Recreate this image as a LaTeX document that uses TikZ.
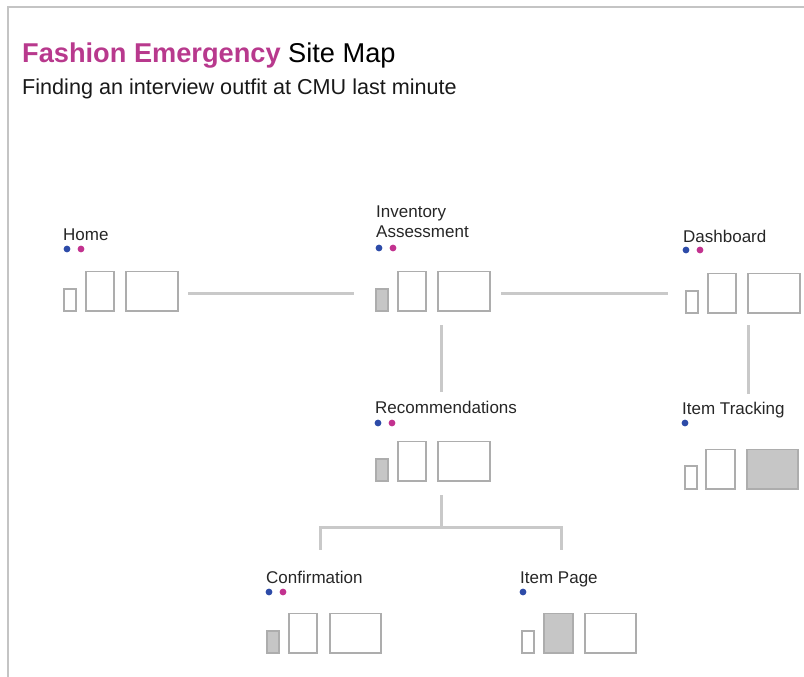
\documentclass[tikz,border=0pt]{standalone}
\usepackage{fontspec}
\setmainfont{Liberation Sans}
\usetikzlibrary{calc}
\definecolor{magentaT}{HTML}{B8398D}
\definecolor{dotblue}{HTML}{2D4BA8}
\definecolor{dotmag}{HTML}{C2328F}
\definecolor{wfgray}{HTML}{ADADAD}
\definecolor{wffill}{HTML}{C6C6C6}
\definecolor{conngray}{HTML}{C9C9C9}
\definecolor{framegray}{HTML}{C4C4C4}
\tikzset{
  wf/.style={draw=wfgray, line width=1.6pt, inner sep=0pt, outer sep=0pt, anchor=south west, fill=white},
  wffilled/.style={wf, fill=wffill},
  small/.style={minimum width=12pt, minimum height=22pt},
  med/.style={minimum width=28pt, minimum height=39.5pt},
  big/.style={minimum width=52pt, minimum height=39.5pt},
  conn/.style={draw=conngray, line width=3pt},
  lbl/.style={anchor=base west, inner sep=0pt, font=\fontsize{17}{19}\selectfont, text=black!85},
  bdot/.style={circle, fill=dotblue, minimum size=6.8pt, inner sep=0pt},
  mdot/.style={circle, fill=dotmag, minimum size=6.8pt, inner sep=0pt},
  frameline/.style={draw=framegray, line width=1.8pt}
}
\begin{document}
\begin{tikzpicture}[x=1pt,y=-1pt]
\useasboundingbox (0,0) rectangle (804,677);
\draw[frameline] (8,680) -- (8,7) -- (806,7);

\node[anchor=base west, inner sep=0pt, font=\fontsize{27.2}{32}\selectfont] (title) at (22,63)
  {\textcolor{magentaT}{\bfseries Fashion Emergency} Site Map};
\node[anchor=base west, inner sep=0pt, font=\fontsize{21.6}{24}\selectfont, text=black!90] (subtitle) at (22,95)
  {Finding an interview outfit at CMU last minute};

% Home
\node[lbl] (homeT) at (63,240) {Home};
\node[bdot] (homeB) at (67,249) {};
\node[mdot] (homeMg) at (81,249) {};
\node[wf,small] (homeS) at (64,311) {};
\node[wf,med] (homeM) at (86,311) {};
\node[wf,big] (homeL) at (126,311) {};

% Inventory Assessment
\node[lbl, align=left] (invT) at (376,237) {Inventory\\[1pt]Assessment};
\node[bdot] (invB) at (379,248) {};
\node[mdot] (invMg) at (393,248) {};
\node[wffilled,small] (invS) at (376,311) {};
\node[wf,med] (invM) at (398,311) {};
\node[wf,big] (invL) at (438,311) {};

% Dashboard
\node[lbl] (dashT) at (683,242) {Dashboard};
\node[bdot] (dashB) at (686,250) {};
\node[mdot] (dashMg) at (700,250) {};
\node[wf,small] (dashS) at (686,313) {};
\node[wf,med] (dashM) at (708,313) {};
\node[wf,big] (dashL) at (748,313) {};

% Recommendations
\node[lbl] (recT) at (375,413) {Recommendations};
\node[bdot] (recB) at (378,423) {};
\node[mdot] (recMg) at (392,423) {};
\node[wffilled,small] (recS) at (376,481) {};
\node[wf,med] (recM) at (398,481) {};
\node[wf,big] (recL) at (438,481) {};

% Item Tracking
\node[lbl] (itT) at (682,414) {Item Tracking};
\node[bdot] (itB) at (685,423) {};
\node[wf,small, minimum height=23pt] (itS) at (685,489) {};
\node[wf,med, minimum width=29pt] (itM) at (706,489) {};
\node[wffilled,big, minimum width=51pt] (itL) at (747,489) {};

% Confirmation
\node[lbl] (confT) at (266,583) {Confirmation};
\node[bdot] (confB) at (269,592) {};
\node[mdot] (confMg) at (283,592) {};
\node[wffilled,small] (confS) at (267,653) {};
\node[wf,med] (confM) at (289,653) {};
\node[wf,big, minimum width=51pt] (confL) at (330,653) {};

% Item Page
\node[lbl] (ipT) at (520,583) {Item Page};
\node[bdot] (ipB) at (523,592) {};
\node[wf,small] (ipS) at (522,653) {};
\node[wffilled,med, minimum width=29pt] (ipM) at (544,653) {};
\node[wf,big, minimum width=51pt] (ipL) at (585,653) {};

% connectors
\draw[conn] ($(homeL.east)+(10,2)$) -- ($(invM.west)+(-44,2)$);
\draw[conn] ($(invL.east)+(11,2)$) -- ($(dashM.west)+(-40,0)$);
\draw[conn] ($(invL.south west)+(3,14)$) -- ($(recL.north west)+(3,-50)$);
\draw[conn] ($(dashL.south west)+(0,12)$) -- ($(itL.north west)+(1,-56)$);
\coordinate (split) at ($(recL.south west)+(3,46)$);
\draw[conn] ($(recL.south west)+(3,14)$) -- (split);
\draw[conn] ($(confM.north east)+(3,-64)$) |- (split) -| ($(ipM.north)+(2.5,-64)$);
\end{tikzpicture}
\end{document}
